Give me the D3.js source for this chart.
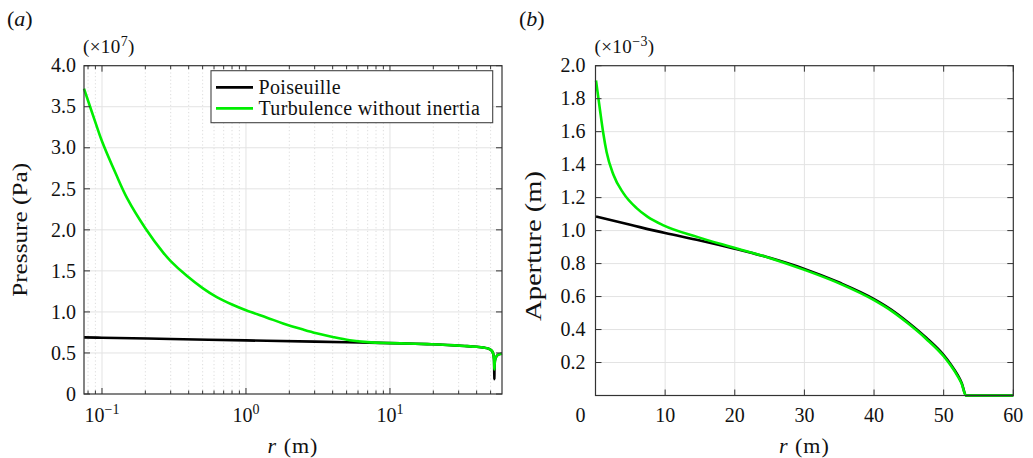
<!DOCTYPE html>
<html><head><meta charset="utf-8">
<script src="https://cdn.jsdelivr.net/npm/d3@7/dist/d3.min.js"></script>
<style>
html,body{margin:0;padding:0;background:#fff;}
svg{display:block;}
</style></head>
<body><svg id="c" width="1033" height="458"></svg>
<script>
// ---------- DATA ----------
// Panel (a): pressure (x10^7 Pa) vs r (m), log x
const rA_turb = [0.075,0.09,0.1,0.125,0.15,0.2,0.267,0.3,0.388,0.5,0.627,0.8,1,1.4,1.81,2.5,3.09,4,5.26,7,10,15,19.5,25,33,40,45,48,50,51.5,52.3,52.8,53.1,53.3,53.8,54.8,56.5,60];
const pA_turb = [3.72,3.31,3.08,2.68,2.38,2.02,1.72,1.62,1.44,1.29,1.18,1.09,1.02,0.93,0.86,0.785,0.74,0.695,0.655,0.632,0.62,0.612,0.606,0.597,0.585,0.575,0.565,0.555,0.54,0.515,0.48,0.42,0.30,0.36,0.42,0.455,0.48,0.49];
const rA_pois = [0.075,0.1,0.3,1,3,5,7,10,15,19.5,25,33,40,45,48,50,51.5,52.3,52.8,53.1,53.3,53.8,54.8,56.5,60];
const pA_pois = [0.69,0.686,0.67,0.653,0.638,0.631,0.626,0.62,0.612,0.606,0.597,0.585,0.575,0.565,0.555,0.54,0.515,0.48,0.42,0.18,0.36,0.42,0.455,0.48,0.49];
// Panel (b): aperture (x10^-3 m) vs r (m)
const rB_pois = [0.075,5,10,15,20,25,30,35,40,42.5,45,47.5,50,51,52,52.6,53.2,60];
const wB_pois = [1.085,1.035,0.985,0.94,0.89,0.835,0.768,0.685,0.585,0.52,0.44,0.35,0.245,0.19,0.125,0.075,0,0];
const rB_turb = [0.075,0.3,0.65,1.1,1.6,2.56,4,5.9,7.5,9.76,14.6,19.4,25.1,30,35,40,42.5,45,47.5,50,51,52,52.6,53.2,60];
const wB_turb = [1.91,1.84,1.73,1.595,1.475,1.34,1.227,1.136,1.083,1.032,0.962,0.902,0.833,0.762,0.68,0.578,0.513,0.433,0.343,0.238,0.183,0.118,0.07,0,0];
// Ticks
const yTicksA = [0,0.5,1,1.5,2,2.5,3,3.5,4];
const xDecadesA = [0.1,1,10];
const xDecadeExp = ["\u22121","0","1"];
const xMinorA = [0.08,0.09,0.2,0.3,0.4,0.5,0.6,0.7,0.8,0.9,2,3,4,5,6,7,8,9,20,30,40,50];
const yTicksB = [0.2,0.4,0.6,0.8,1.0,1.2,1.4,1.6,1.8,2.0];
const xTicksB = [0,10,20,30,40,50,60];
const seriesNames = ["Poiseuille","Turbulence without inertia"];
const seriesColors = ["#000000","#00ee00"];

// ---------- DRAW ----------
const svg = d3.select("#c");
const FF = "Liberation Serif";
const FS = 20;
const gridCol = "#e3e3e3", axisCol = "#333";
function zip(a,b){return a.map((v,i)=>[v,b[i]]);}
function T(sel){return sel.append("text").attr("font-family",FF).attr("fill","#111");}

const xA = d3.scaleLog().domain([0.075,60]).range([84,502]);
const yA = d3.scaleLinear().domain([0,4]).range([394,65.7]);
const xB = d3.scaleLinear().domain([0,60]).range([595.5,1013.3]);
const yB = d3.scaleLinear().domain([0,2]).range([395.5,65.7]);

// ----- Panel A -----
{
  const g = svg.append("g");
  const [x0,x1]=xA.range(), [y0,y1]=yA.range();
  g.selectAll(null).data(xMinorA).join("line")
    .attr("x1",d=>xA(d)).attr("x2",d=>xA(d)).attr("y1",y0).attr("y2",y1)
    .attr("stroke","#d4d4d4").attr("stroke-width",0.8).attr("stroke-dasharray","1.2,2.4");
  g.selectAll(null).data(xDecadesA).join("line")
    .attr("x1",d=>xA(d)).attr("x2",d=>xA(d)).attr("y1",y0).attr("y2",y1)
    .attr("stroke",gridCol).attr("stroke-width",1);
  g.selectAll(null).data(yTicksA.slice(1,-1)).join("line")
    .attr("x1",x0).attr("x2",x1).attr("y1",d=>yA(d)).attr("y2",d=>yA(d))
    .attr("stroke",gridCol).attr("stroke-width",1);
  const line = d3.line().x(d=>xA(d[0])).y(d=>yA(d[1])).curve(d3.curveCatmullRom.alpha(0.5));
  g.append("path").datum(zip(rA_pois,pA_pois)).attr("d",line)
    .attr("fill","none").attr("stroke",seriesColors[0]).attr("stroke-width",2.6);
  g.append("path").datum(zip(rA_turb,pA_turb)).attr("d",line)
    .attr("fill","none").attr("stroke",seriesColors[1]).attr("stroke-width",2.6);
  g.append("rect").attr("x",x0).attr("y",y1).attr("width",x1-x0).attr("height",y0-y1)
    .attr("fill","none").attr("stroke",axisCol).attr("stroke-width",1.2);
  [y0,y1].forEach((yy,i)=>{
    const s = i===0?-1:1;
    g.selectAll(null).data(xDecadesA).join("line")
      .attr("x1",d=>xA(d)).attr("x2",d=>xA(d)).attr("y1",yy).attr("y2",yy+s*6)
      .attr("stroke",axisCol).attr("stroke-width",1);
    g.selectAll(null).data(xMinorA).join("line")
      .attr("x1",d=>xA(d)).attr("x2",d=>xA(d)).attr("y1",yy).attr("y2",yy+s*3.5)
      .attr("stroke",axisCol).attr("stroke-width",1);
  });
  [x0,x1].forEach((xx,i)=>{
    const s = i===0?1:-1;
    g.selectAll(null).data(yTicksA).join("line")
      .attr("x1",xx).attr("x2",xx+s*6).attr("y1",d=>yA(d)).attr("y2",d=>yA(d))
      .attr("stroke",axisCol).attr("stroke-width",1);
  });
  g.selectAll(null).data(yTicksA).join("text").attr("font-family",FF).attr("fill","#111")
    .attr("x",x0-8).attr("y",d=>yA(d)+6.7).attr("text-anchor","end")
    .attr("font-size",FS).text(d=>d===0?"0":d.toFixed(1));
  const xl = g.selectAll(null).data(xDecadesA).join("text").attr("font-family",FF).attr("fill","#111")
    .attr("x",d=>xA(d)).attr("y",422).attr("text-anchor","middle").attr("font-size",FS);
  xl.append("tspan").text("10");
  xl.append("tspan").attr("dy",-8).attr("font-size",14).text((d,i)=>xDecadeExp[i]);
  const m = T(g).attr("x",x0-1).attr("y",53).attr("font-size",19).attr("letter-spacing",0.4);
  m.append("tspan").text("(\u00d710");
  m.append("tspan").attr("dy",-7).attr("font-size",14).text("7");
  m.append("tspan").attr("dy",7).text(")");
  const xlab = T(g).attr("x",(x0+x1)/2).attr("y",453).attr("text-anchor","middle")
    .attr("font-size",22).attr("letter-spacing",1);
  xlab.append("tspan").attr("font-style","italic").text("r");
  xlab.append("tspan").text(" (m)");
  T(g).attr("transform",`translate(26.5,${(y0+y1)/2}) rotate(-90)`)
    .attr("text-anchor","middle").attr("font-size",21).attr("textLength",134)
    .attr("lengthAdjust","spacingAndGlyphs").text("Pressure (Pa)");
  const pl = T(g).attr("x",7).attr("y",26).attr("font-size",22);
  pl.append("tspan").text("(");
  pl.append("tspan").attr("font-style","italic").text("a");
  pl.append("tspan").text(")");
  const lg = g.append("g");
  lg.append("rect").attr("x",211).attr("y",70.7).attr("width",281.7).attr("height",52)
    .attr("fill","#fff").attr("stroke","#444").attr("stroke-width",1.1);
  seriesNames.forEach((n,i)=>{
    const yy = [87.3,108.3][i];
    lg.append("line").attr("x1",216).attr("x2",253).attr("y1",yy).attr("y2",yy)
      .attr("stroke",seriesColors[i]).attr("stroke-width",2.8);
    T(lg).attr("x",258.5).attr("y",yy+6.3).attr("font-size",20).attr("letter-spacing",0.35).text(n);
  });
}

// ----- Panel B -----
{
  const g = svg.append("g");
  const [x0,x1]=xB.range(), [y0,y1]=yB.range();
  g.selectAll(null).data(xTicksB.slice(1,-1)).join("line")
    .attr("x1",d=>xB(d)).attr("x2",d=>xB(d)).attr("y1",y0).attr("y2",y1)
    .attr("stroke",gridCol).attr("stroke-width",1);
  g.selectAll(null).data(yTicksB.slice(0,-1)).join("line")
    .attr("x1",x0).attr("x2",x1).attr("y1",d=>yB(d)).attr("y2",d=>yB(d))
    .attr("stroke",gridCol).attr("stroke-width",1);
  const line = d3.line().x(d=>xB(d[0])).y(d=>yB(d[1])).curve(d3.curveMonotoneX);
  g.append("path").datum(zip(rB_pois,wB_pois)).attr("d",line)
    .attr("fill","none").attr("stroke",seriesColors[0]).attr("stroke-width",2.6);
  g.append("path").datum(zip(rB_turb,wB_turb)).attr("d",line)
    .attr("fill","none").attr("stroke",seriesColors[1]).attr("stroke-width",2.6);
  g.append("rect").attr("x",x0).attr("y",y1).attr("width",x1-x0).attr("height",y0-y1)
    .attr("fill","none").attr("stroke",axisCol).attr("stroke-width",1.2);
  [y0,y1].forEach((yy,i)=>{
    const s = i===0?-1:1;
    g.selectAll(null).data(xTicksB).join("line")
      .attr("x1",d=>xB(d)).attr("x2",d=>xB(d)).attr("y1",yy).attr("y2",yy+s*6)
      .attr("stroke",axisCol).attr("stroke-width",1);
  });
  [x0,x1].forEach((xx,i)=>{
    const s = i===0?1:-1;
    g.selectAll(null).data(yTicksB).join("line")
      .attr("x1",xx).attr("x2",xx+s*6).attr("y1",d=>yB(d)).attr("y2",d=>yB(d))
      .attr("stroke",axisCol).attr("stroke-width",1);
  });
  g.selectAll(null).data(yTicksB).join("text").attr("font-family",FF).attr("fill","#111")
    .attr("x",x0-10).attr("y",d=>yB(d)+6.7).attr("text-anchor","end")
    .attr("font-size",FS).text(d=>d.toFixed(1));
  g.selectAll(null).data(xTicksB).join("text").attr("font-family",FF).attr("fill","#111")
    .attr("x",d=>xB(d)+(d===0?-15:0)).attr("y",422).attr("text-anchor","middle")
    .attr("font-size",FS).text(d=>d);
  const m = T(g).attr("x",x0-1).attr("y",53).attr("font-size",19).attr("letter-spacing",0.4);
  m.append("tspan").text("(\u00d710");
  m.append("tspan").attr("dy",-7).attr("font-size",14).text("\u22123");
  m.append("tspan").attr("dy",7).text(")");
  const xlab = T(g).attr("x",(x0+x1)/2).attr("y",453).attr("text-anchor","middle")
    .attr("font-size",22).attr("letter-spacing",1);
  xlab.append("tspan").attr("font-style","italic").text("r");
  xlab.append("tspan").text(" (m)");
  T(g).attr("transform",`translate(541,246) rotate(-90)`)
    .attr("text-anchor","middle").attr("font-size",23).attr("textLength",150)
    .attr("lengthAdjust","spacingAndGlyphs").text("Aperture (m)");
  const pl = T(g).attr("x",519).attr("y",26).attr("font-size",22);
  pl.append("tspan").text("(");
  pl.append("tspan").attr("font-style","italic").text("b");
  pl.append("tspan").text(")");
}
</script></body></html>
